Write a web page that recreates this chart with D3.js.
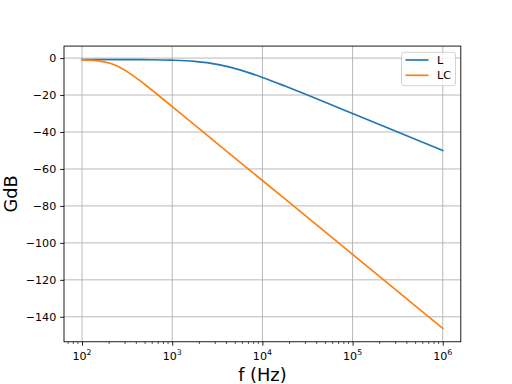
<!DOCTYPE html>
<html>
<head>
<meta charset="utf-8">
<script src="https://cdn.jsdelivr.net/npm/d3@7"></script>
<style>
  html, body { margin: 0; padding: 0; background: #fff; }
  svg { display: block; }
  text { font-family: "DejaVu Sans", sans-serif; }
</style>
</head>
<body>
<div id="chart"></div>
<script>
// ---- data ----
const seriesNames = ["L", "LC"];
const seriesColors = ["#1f77b4", "#ff7f0e"];

const freqL = [100, 316.2, 562.3, 1000, 1778, 3162, 5623, 10000, 17783, 31623, 56234, 100000, 316228, 1000000];
const gdbL  = [-0.78, -0.82, -0.89, -1.13, -1.79, -3.41, -6.38, -10.47, -15.14, -20.03, -25.0, -29.99, -39.98, -49.98];

const freqLC = [100, 125.9, 158.5, 199.5, 251.2, 316.2, 398.1, 501.2, 631.0, 794.3, 1000, 3162, 10000, 31623, 100000, 316228, 1000000];
const gdbLC  = [-0.93, -1.15, -1.65, -2.70, -4.58, -7.32, -10.70, -14.43, -18.31, -22.27, -26.25, -46.24, -66.24, -86.24, -106.24, -126.24, -146.24];

const xTickExps = [2, 3, 4, 5, 6];
const yTicks = [0, -20, -40, -60, -80, -100, -120, -140];
const xLabel = "f (Hz)";
const yLabel = "GdB";

// ---- layout ----
const W = 512, H = 384;
const pLeft = 64, pRight = 460.8, pTop = 46.08, pBottom = 341.76;
const tickFont = 11.1, labelFont = 17.8;

const svg = d3.select("#chart").append("svg")
  .attr("width", W).attr("height", H)
  .attr("viewBox", `0 0 ${W} ${H}`);
svg.append("rect").attr("width", W).attr("height", H).attr("fill", "#fff");

const x = d3.scaleLog().domain([Math.pow(10, 1.8), Math.pow(10, 6.2)]).range([pLeft, pRight]);
const allY = gdbL.concat(gdbLC);
const yMin = d3.min(allY), yMax = d3.max(allY);
const yPad = (yMax - yMin) * 0.05;
const y = d3.scaleLinear().domain([yMin - yPad, yMax + yPad]).range([pBottom, pTop]);

// clip
svg.append("defs").append("clipPath").attr("id", "clip")
  .append("rect").attr("x", pLeft).attr("y", pTop).attr("width", pRight - pLeft).attr("height", pBottom - pTop);

// grid
const grid = svg.append("g");
xTickExps.forEach(e => {
  const px = x(Math.pow(10, e));
  grid.append("line").attr("x1", px).attr("x2", px).attr("y1", pTop).attr("y2", pBottom)
    .attr("stroke", "#b0b0b0").attr("stroke-width", 0.89);
});
yTicks.forEach(v => {
  const py = y(v);
  grid.append("line").attr("x1", pLeft).attr("x2", pRight).attr("y1", py).attr("y2", py)
    .attr("stroke", "#b0b0b0").attr("stroke-width", 0.89);
});

// lines
const line = d3.line().x(d => x(d[0])).y(d => y(d[1])).curve(d3.curveMonotoneX);
const plotG = svg.append("g").attr("clip-path", "url(#clip)");
[[freqL, gdbL], [freqLC, gdbLC]].forEach((s, i) => {
  const pts = s[0].map((f, j) => [f, s[1][j]]);
  plotG.append("path").datum(pts).attr("d", line)
    .attr("fill", "none").attr("stroke", seriesColors[i]).attr("stroke-width", 1.67)
    .attr("stroke-linejoin", "round").attr("stroke-linecap", "square");
});

// x axis ticks
const xAxis = d3.axisBottom(x)
  .tickValues(xTickExps.map(e => Math.pow(10, e)))
  .tickSize(3.89).tickPadding(3.89).tickFormat("");
const gx = svg.append("g").attr("transform", `translate(0,${pBottom})`).call(xAxis);
gx.select(".domain").remove();
gx.selectAll(".tick line").attr("stroke", "#000").attr("stroke-width", 0.89);
// minor ticks
const minor = [];
for (let e = 1; e <= 6; e++) for (let k = 2; k <= 9; k++) {
  const v = k * Math.pow(10, e);
  if (v >= x.domain()[0] && v <= x.domain()[1]) minor.push(v);
}
svg.append("g").selectAll("line").data(minor).join("line")
  .attr("x1", d => x(d)).attr("x2", d => x(d))
  .attr("y1", pBottom).attr("y2", pBottom + 2.22)
  .attr("stroke", "#000").attr("stroke-width", 0.67);
// x tick labels with superscripts
xTickExps.forEach(e => {
  const t = svg.append("text").attr("x", x(Math.pow(10, e))).attr("y", 359.5)
    .attr("text-anchor", "middle").attr("font-size", tickFont).attr("fill", "#000");
  t.append("tspan").text("10");
  t.append("tspan").attr("font-size", 7.8).attr("dy", -4.6).text(String(e));
});

// y axis
const yAxis = d3.axisLeft(y).tickValues(yTicks).tickSize(3.89).tickPadding(3.89)
  .tickFormat(d => (d < 0 ? "\u2212" + Math.abs(d) : String(d)));
const gy = svg.append("g").attr("transform", `translate(${pLeft},0)`).call(yAxis);
gy.select(".domain").remove();
gy.selectAll(".tick line").attr("stroke", "#000").attr("stroke-width", 0.89);
gy.selectAll(".tick text").attr("font-size", tickFont).attr("font-family", "DejaVu Sans")
  .attr("fill", "#000");

// spines
svg.append("rect").attr("x", pLeft).attr("y", pTop).attr("width", pRight - pLeft).attr("height", pBottom - pTop)
  .attr("fill", "none").attr("stroke", "#000").attr("stroke-width", 0.89);

// axis labels
svg.append("text").attr("x", (pLeft + pRight) / 2).attr("y", 381)
  .attr("text-anchor", "middle").attr("font-size", labelFont).attr("fill", "#000").text(xLabel);
svg.append("text").attr("transform", `translate(17.3,${(pTop + pBottom) / 2}) rotate(-90)`)
  .attr("text-anchor", "middle").attr("font-size", labelFont).attr("fill", "#000").text(yLabel);

// legend
const lg = svg.append("g");
lg.append("rect").attr("x", 401.5).attr("y", 52.3).attr("width", 54).attr("height", 33.4)
  .attr("rx", 2.5).attr("ry", 2.5)
  .attr("fill", "#fff").attr("fill-opacity", 0.8).attr("stroke", "#cccccc").attr("stroke-width", 0.89);
seriesNames.forEach((n, i) => {
  const cy = 60 + i * 15.3;
  lg.append("line").attr("x1", 405.5).attr("x2", 428.5).attr("y1", cy).attr("y2", cy)
    .attr("stroke", seriesColors[i]).attr("stroke-width", 1.67);
  lg.append("text").attr("x", 437).attr("y", cy + 4).attr("font-size", tickFont)
    .attr("fill", "#000").text(n);
});
</script>
</body>
</html>
